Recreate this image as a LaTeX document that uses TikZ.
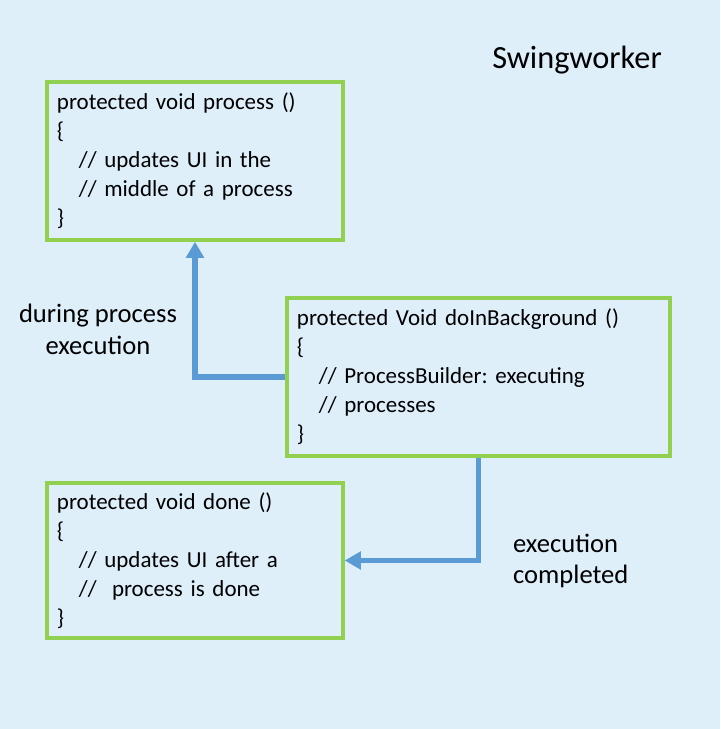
\documentclass[tikz,border=0pt]{standalone}
\usepackage{fontspec}
\setmainfont{Carlito}
\usepackage{tikz}
\usetikzlibrary{arrows.meta}
\definecolor{bgblue}{HTML}{DEEFFA}
\definecolor{boxgreen}{HTML}{92D050}
\definecolor{arrowblue}{HTML}{5B9BD5}
\tikzset{
   codebox/.style={draw=boxgreen, line width=3pt, align=left,
      inner xsep=0.3cm, font=\fontsize{19.6}{24.7}\selectfont},
   flow/.style={draw=arrowblue, line width=4.5pt,
      -{Triangle[width=0.52cm,length=0.48cm]}},
   remark/.style={font=\fontsize{22.7}{27.2}\selectfont},
    }
\newcommand{\ind}{\hspace*{0.66cm}}
\frenchspacing

\begin{document}
\begin{tikzpicture}[x=0.03cm,y=-0.03cm]
            \fill[bgblue] (0,0) rectangle (720,729);
            \useasboundingbox (0,0) rectangle (720,729);
            \node[font=\fontsize{27.6}{32}\selectfont] (title) at (577,60) {Swingworker};
            % code boxes
            \node[codebox, text width=8.28cm, minimum height=4.74cm] (process) at (195,161)
               {protected void process ()\\ \{\\ \ind// updates UI in the\\ \ind// middle of a process\\ \}};
            \node[codebox, text width=10.89cm, minimum height=4.74cm] (background) at (478.5,377)
               {protected Void doInBackground ()\\ \{\\ \ind// ProcessBuilder: executing\\ \ind// processes\\ \}};
            \node[codebox, text width=8.28cm, minimum height=4.65cm] (done) at (195,560.5)
               {protected void done ()\\ \{\\ \ind// updates UI after a\\ \ind//\ \ process is done\\ \}};
            % connectors
            \draw[flow] (background.west) -| (process.south);
            \draw[flow] (background.south) |- (done.east);
            \node[remark, align=center] (during) at (98,329) {during process\\ execution};
            \node[remark, align=left, anchor=west] (completed) at (509,561) {execution\\ completed};
        \end{tikzpicture}
\end{document}
